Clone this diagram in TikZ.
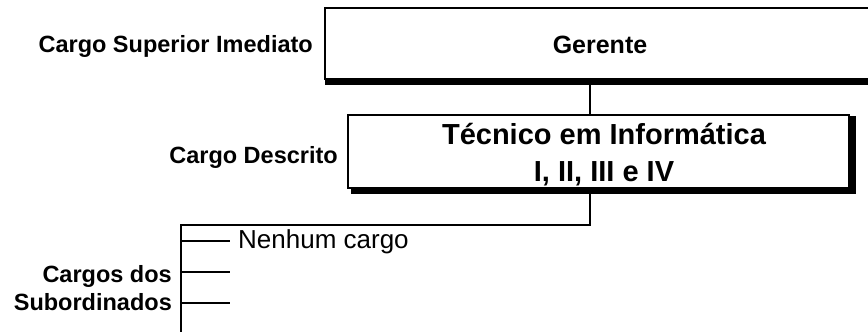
\documentclass[tikz,border=0pt]{standalone}
\usepackage{fontspec}
\setmainfont{Liberation Sans}
\begin{document}
\begin{tikzpicture}[x=1pt,y=-1pt,
  thin line/.style={line width=2pt},
  shadow line/.style={line width=6pt},
  boxnode/.style={draw,thin line,inner sep=0pt,outer sep=0pt},
  label/.style={font=\bfseries\fontsize{23.5}{28}\selectfont,inner sep=0pt,align=right},
  branch/.style={thin line}]
\useasboundingbox (0,0) rectangle (868,332);
\clip (0,0) rectangle (868,332);
% Gerente box
\node[boxnode,minimum width=550pt,minimum height=71pt] (ger) at (600,43.5) {};
\draw[shadow line] ([yshift=-3pt]ger.south west) -- ([yshift=-3pt]ger.south east);
\node[inner sep=0pt,font=\bfseries\fontsize{25}{30}\selectfont] (gert) at (600,45) {Gerente};
% Tecnico box
\node[boxnode,minimum width=501pt,minimum height=73pt] (tec) at (598.5,151.5) {};
\draw[shadow line] ([xshift=3.5pt,yshift=-1pt]tec.north east) -- ([xshift=3.5pt,yshift=-3pt]tec.south east) -- ([xshift=3pt,yshift=-3pt]tec.south west);
\node[inner sep=0pt,align=center,font=\bfseries\fontsize{29}{37}\selectfont] (tect) at (604,155) {Técnico em Informática\\I, II, III e IV};
% labels
\node[label,anchor=east] (lsup) at (313,46) {Cargo Superior Imediato};
\node[label,anchor=east] (ldesc) at (338,157) {Cargo Descrito};
\node[label,anchor=east] (lsub) at (172,288) {Cargos dos\\Subordinados};
% connectors
\coordinate (t1) at (590,85);
\coordinate (t2) at (590,115);
\draw[thin line] (t1) -- (t2);
\coordinate (b1) at (590,193);
\coordinate (b2) at (590,225);
\coordinate (c1) at (181,225);
\coordinate (c2) at (181,340);
\draw[thin line] (b1) -- (b2) -- (c1) -- (c2);
\coordinate (s1) at (181,241);
\coordinate (e1) at (230,241);
\coordinate (s2) at (181,272);
\coordinate (e2) at (230,272);
\coordinate (s3) at (181,303);
\coordinate (e3) at (230,303);
\draw[branch] (s1) -- (e1);
\draw[branch] (s2) -- (e2);
\draw[branch] (s3) -- (e3);
\node[anchor=west,inner sep=0pt,font=\fontsize{26}{30}\selectfont] (nen) at (238,242) {Nenhum cargo};
\end{tikzpicture}
\end{document}
